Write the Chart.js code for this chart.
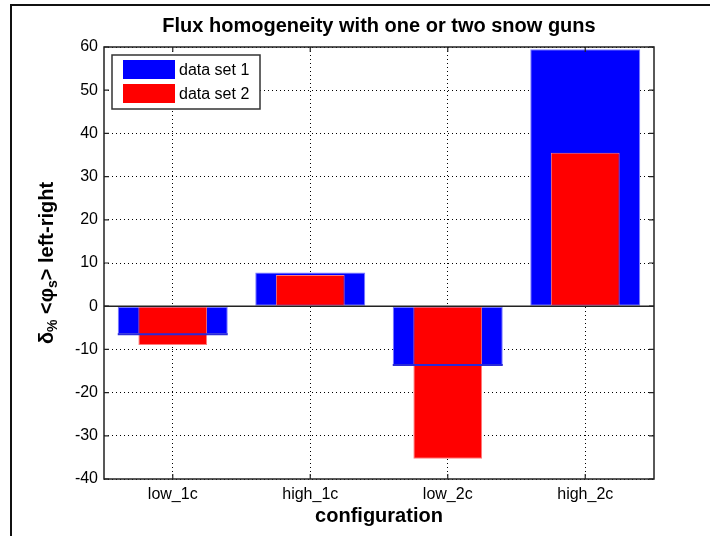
<!DOCTYPE html>
<html>
<head>
<meta charset="utf-8">
<script src="https://cdn.jsdelivr.net/npm/chart.js@4"></script>
<style>
  html, body { margin: 0; padding: 0; background: #fff; }
  #wrap { width: 710px; height: 536px; }
</style>
</head>
<body>
<div id="wrap"><canvas id="chart" width="710" height="536"></canvas></div>
<script>
// data
const categories = ['low_1c', 'high_1c', 'low_2c', 'high_2c'];
const dataSet1 = [-6.5, 7.8, -13.6, 59.5];
const dataSet2 = [-9, 7.2, -35.3, 35.5];
const legendLabels = ['data set 1', 'data set 2'];
const yMin = -40, yMax = 60, yStep = 10;

const BLUE = '#0000ff';
const RED = '#ff0000';
const FONT = '"Liberation Sans", Arial, Helvetica, sans-serif';

// MATLAB-ish decorations: frame, box, inner ticks, zero line, legend, titles
const matlabLook = {
    id: 'matlabLook',
    beforeDraw(chart) {
        const ctx = chart.ctx;
        ctx.save();
        ctx.strokeStyle = '#111';
        ctx.lineWidth = 2;
        ctx.beginPath();
        ctx.moveTo(11, 536);
        ctx.lineTo(11, 5);
        ctx.lineTo(710, 5);
        ctx.stroke();
        ctx.restore();
    },
    afterDatasetsDraw(chart) {
        const ctx = chart.ctx;
        const a = chart.chartArea;
        const x = chart.scales.x, y = chart.scales.y;
        ctx.save();

        // blue bar end edge shows through the red bar (negative bars only)
        const meta0 = chart.getDatasetMeta(0);
        ctx.strokeStyle = '#2a2ad8';
        ctx.lineWidth = 2;
        meta0.data.forEach((bar, i) => {
            if (dataSet1[i] >= 0) return;
            ctx.beginPath();
            ctx.moveTo(bar.x - bar.width / 2, bar.y);
            ctx.lineTo(bar.x + bar.width / 2, bar.y);
            ctx.stroke();
        });

        // zero baseline
        const y0 = y.getPixelForValue(0);
        ctx.strokeStyle = '#222';
        ctx.lineWidth = 1.5;
        ctx.beginPath();
        ctx.moveTo(a.left, y0);
        ctx.lineTo(a.right, y0);
        ctx.stroke();

        // axes box
        ctx.strokeStyle = '#222';
        ctx.lineWidth = 1.5;
        ctx.strokeRect(a.left, a.top, a.right - a.left, a.bottom - a.top);

        // inner tick marks
        ctx.lineWidth = 1.2;
        ctx.beginPath();
        for (let v = yMin; v <= yMax; v += yStep) {
            const py = y.getPixelForValue(v);
            ctx.moveTo(a.left, py); ctx.lineTo(a.left + 5, py);
            ctx.moveTo(a.right, py); ctx.lineTo(a.right - 5, py);
        }
        categories.forEach((c, i) => {
            const px = x.getPixelForValue(i);
            ctx.moveTo(px, a.top); ctx.lineTo(px, a.top + 5);
            ctx.moveTo(px, a.bottom); ctx.lineTo(px, a.bottom - 5);
        });
        ctx.stroke();

        // legend box
        ctx.fillStyle = '#fff';
        ctx.fillRect(112, 55, 148, 54);
        ctx.strokeStyle = '#333';
        ctx.lineWidth = 1.5;
        ctx.strokeRect(112, 55, 148, 54);
        const swatches = [BLUE, RED];
        ctx.font = '16px ' + FONT;
        ctx.textBaseline = 'middle';
        ctx.textAlign = 'left';
        legendLabels.forEach((lab, i) => {
            const top = 60 + i * 24;
            ctx.fillStyle = swatches[i];
            ctx.fillRect(123, top, 52, 19);
            ctx.fillStyle = '#000';
            ctx.fillText(lab, 179, top + 11);
        });
        ctx.restore();
    },
    afterDraw(chart) {
        const ctx = chart.ctx;
        const a = chart.chartArea;
        const cx = (a.left + a.right) / 2;
        ctx.save();
        ctx.fillStyle = '#000';
        ctx.textAlign = 'center';
        ctx.textBaseline = 'middle';
        ctx.font = 'bold 20px ' + FONT;
        ctx.fillText('Flux homogeneity with one or two snow guns', cx, 26);
        ctx.fillText('configuration', cx, 516);

        // y label: δ% <φs> left-right with subscripts, rotated
        const parts = [
            { t: 'δ', sub: false },
            { t: '%', sub: true },
            { t: ' <φ', sub: false },
            { t: 's', sub: true },
            { t: '> left-right', sub: false }
        ];
        const big = 'bold 20px ' + FONT, small = 'bold 14px ' + FONT;
        let total = 0;
        parts.forEach(p => { ctx.font = p.sub ? small : big; p.w = ctx.measureText(p.t).width; total += p.w; });
        ctx.translate(46, 263);
        ctx.rotate(-Math.PI / 2);
        ctx.textAlign = 'left';
        ctx.textBaseline = 'alphabetic';
        let px = -total / 2;
        parts.forEach(p => {
            ctx.font = p.sub ? small : big;
            ctx.fillText(p.t, px, p.sub ? 11 : 7);
            px += p.w;
        });
        ctx.restore();
    }
};

new Chart(document.getElementById('chart'), {
    type: 'bar',
    data: {
        labels: categories,
        datasets: [
            {
                label: legendLabels[0],
                data: dataSet1,
                backgroundColor: BLUE,
                borderColor: '#7b7bff',
                borderWidth: 1,
                borderSkipped: false,
                barPercentage: 0.8,
                categoryPercentage: 1,
                grouped: false,
                order: 1
            },
            {
                label: legendLabels[1],
                data: dataSet2,
                backgroundColor: RED,
                borderColor: '#ff7b7b',
                borderWidth: 1,
                borderSkipped: false,
                barPercentage: 0.5,
                categoryPercentage: 1,
                grouped: false,
                order: 0
            }
        ]
    },
    options: {
        responsive: false,
        animation: false,
        devicePixelRatio: 1,
        layout: { padding: { top: 47, right: 56, left: 0, bottom: 0 } },
        plugins: {
            legend: { display: false },
            title: { display: false },
            tooltip: { enabled: false }
        },
        scales: {
            x: {
                offset: true,
                grid: { offset: false, color: '#000', lineWidth: 1, drawTicks: false },
                border: { display: false, dash: [1, 3] },
                ticks: { color: '#000', font: { family: FONT, size: 16 }, padding: 6, maxRotation: 0 },
                afterFit(scale) { scale.height = 57; }
            },
            y: {
                min: yMin,
                max: yMax,
                grid: { color: '#000', lineWidth: 1, drawTicks: false },
                border: { display: false, dash: [1, 3] },
                ticks: { stepSize: yStep, color: '#000', font: { family: FONT, size: 16 }, padding: 6 },
                afterFit(scale) { scale.width = 104; }
            }
        }
    },
    plugins: [matlabLook]
});
</script>
</body>
</html>
